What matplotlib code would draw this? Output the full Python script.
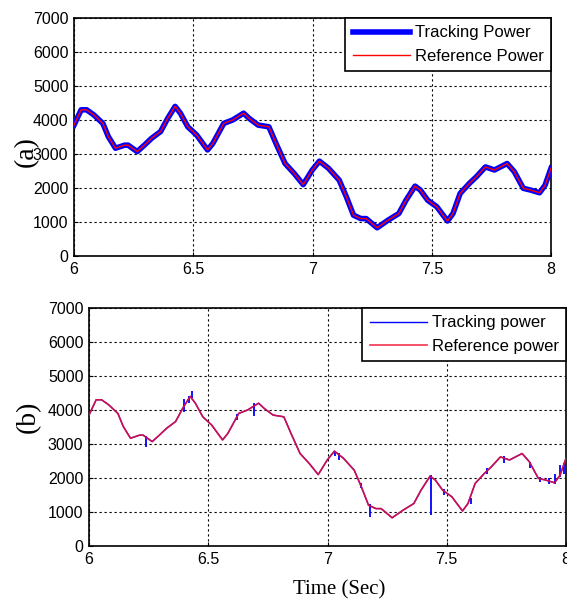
import matplotlib
matplotlib.use("Agg")
import matplotlib.pyplot as plt

# reference power (W)
time = [6.000, 6.030, 6.053, 6.083, 6.121, 6.144, 6.174, 6.212, 6.227, 6.265,
        6.295, 6.325, 6.363, 6.393, 6.424, 6.446, 6.477, 6.514, 6.560, 6.582,
        6.628, 6.665, 6.711, 6.734, 6.772, 6.817, 6.847, 6.885, 6.923, 6.961,
        6.999, 7.029, 7.067, 7.112, 7.142, 7.172, 7.203, 7.225, 7.271, 7.316,
        7.362, 7.392, 7.430, 7.452, 7.483, 7.521, 7.566, 7.589, 7.619, 7.657,
        7.687, 7.725, 7.763, 7.816, 7.846, 7.884, 7.914, 7.952, 7.975, 8.000]
reference = [3850, 4300, 4300, 4150, 3900, 3510, 3170, 3260, 3260, 3070,
             3260, 3460, 3660, 4050, 4400, 4200, 3800, 3560, 3120, 3310,
             3900, 4000, 4200, 4050, 3850, 3800, 3310, 2720, 2430, 2100,
             2530, 2790, 2580, 2230, 1740, 1200, 1100, 1100, 830, 1050,
             1250, 1640, 2055, 1940, 1640, 1450, 1030, 1250, 1840, 2130,
             2330, 2620, 2530, 2720, 2480, 1990, 1940, 1860, 2080, 2580]
tracking_a = reference

# short glitches of the tracking power in case (b): time, low, high
spike_t = [6.24, 6.40, 6.42, 6.43, 6.62, 6.69, 7.03, 7.05, 7.14, 7.18, 7.435,
           7.49, 7.60, 7.67, 7.74, 7.85, 7.89, 7.93, 7.955, 7.975, 7.99]
spike_lo = [2920, 3950, 4200, 4340, 3710, 3820, 2650, 2520, 1720, 850, 900,
            1500, 1250, 2110, 2450, 2300, 1890, 1820, 1820, 2030, 2130]
spike_hi = [3250, 4320, 4420, 4560, 3870, 4200, 2800, 2750, 1840, 1250, 2080,
            1690, 1420, 2280, 2640, 2480, 2040, 1990, 2130, 2380, 2430]

plt.rcParams["font.family"] = ["Liberation Sans", "DejaVu Sans"]

W, H = 567, 603
fig = plt.figure(figsize=(W / 100, H / 100), dpi=100)

def box(x0, y0, x1, y1):
    return [x0 / W, 1 - y1 / H, (x1 - x0) / W, (y1 - y0) / H]

ax1 = fig.add_axes(box(74, 18, 551, 256))
ax2 = fig.add_axes(box(89, 308, 566, 546))

ax1.plot(time, tracking_a, color="#0000ff", lw=4, label="Tracking Power", zorder=3)
ax1.plot(time, reference, color="#ff0000", lw=1, label="Reference Power", zorder=4)

ax2.plot(time, reference, color="#0000ff", lw=1, label="Tracking power", zorder=3)
ax2.vlines(spike_t, spike_lo, spike_hi, color="#0000ff", lw=1.3, zorder=3)
ax2.plot(time, reference, color="#f01030", lw=1.2, alpha=0.85,
         label="Reference power", zorder=4)

for ax in (ax1, ax2):
    ax.set_xlim(6, 8)
    ax.set_ylim(0, 7000)
    ax.set_xticks([6, 6.5, 7, 7.5, 8])
    ax.set_xticklabels(["6", "6.5", "7", "7.5", "8"])
    ax.set_yticks(range(0, 7001, 1000))
    ax.tick_params(direction="in", length=3, labelsize=11.5, pad=4, colors="k")
    ax.grid(True, color="k", linestyle=(0, (2, 2.5)), lw=0.8)
    for s in ax.spines.values():
        s.set_linewidth(1.2)
        s.set_color("k")
    leg = ax.legend(loc="upper right", borderaxespad=0, fontsize=12,
                    handlelength=3.4, handletextpad=0.3, labelspacing=0.5,
                    borderpad=0.45, fancybox=False, framealpha=1)
    leg.get_frame().set_edgecolor("k")
    leg.get_frame().set_linewidth(1.2)

fig.text(26 / W, 1 - 152 / H, "(a)", rotation=90, ha="center", va="center",
         fontsize=20, family="Liberation Serif")
fig.text(28 / W, 1 - 417 / H, "(b)", rotation=90, ha="center", va="center",
         fontsize=20, family="Liberation Serif")
fig.text(339 / W, 1 - 590 / H, "Time (Sec)", ha="center", va="center",
         fontsize=15, family="Liberation Serif")

fig.savefig("out.png", dpi=100)
